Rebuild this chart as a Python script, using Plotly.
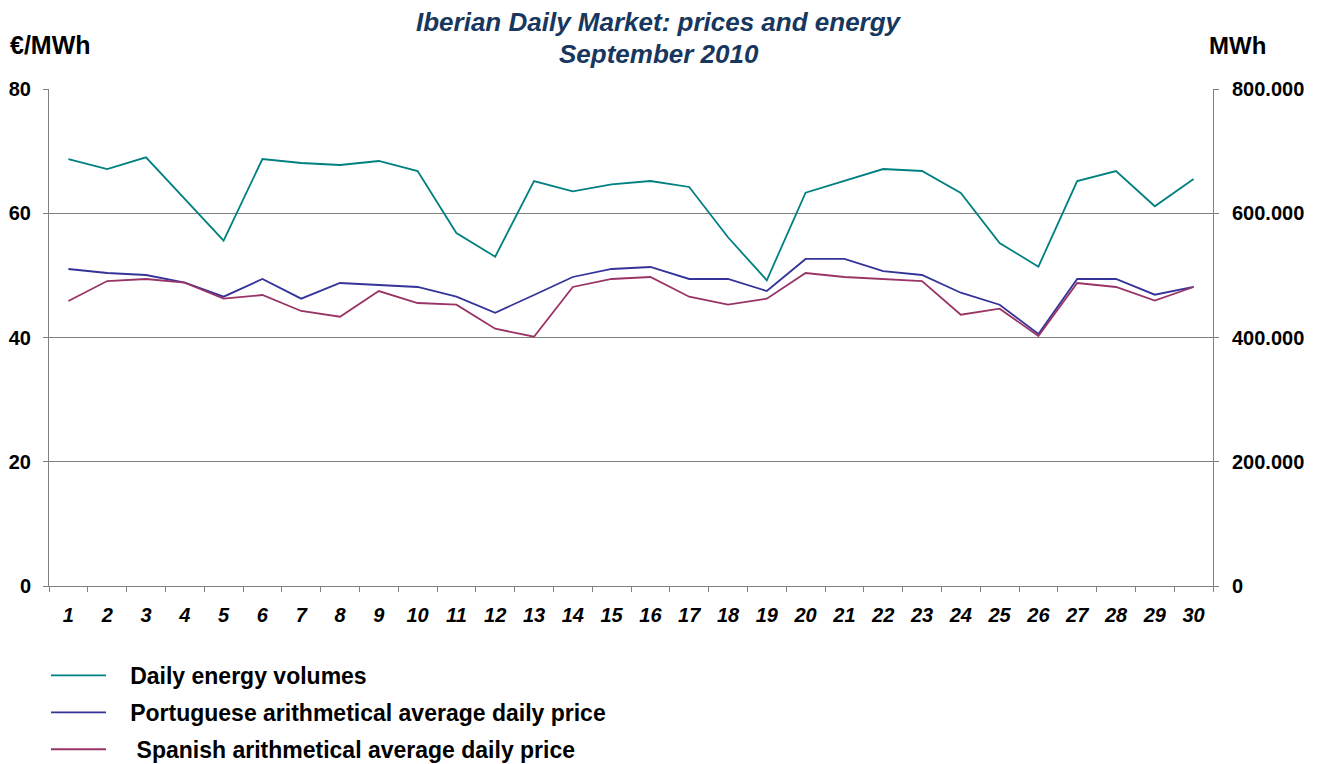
import plotly.graph_objects as go

days = [str(d) for d in range(1, 31)]

energy_mwh = [687300, 671200, 690000, 622900, 555800, 687300, 680900, 677700, 684100, 668000,
              568200, 530100, 651900, 635300, 646600, 651900, 642300, 561300, 492100, 633100,
              652400, 671200, 668000, 632600, 552100, 514000, 651900, 668000, 611300, 655100]

pt_price = [51.03, 50.38, 50.06, 48.82, 46.57, 49.42, 46.25, 48.77, 48.45, 48.13,
            46.57, 43.99, 46.84, 49.74, 51.03, 51.35, 49.42, 49.42, 47.48, 52.64,
            52.64, 50.70, 50.06, 47.21, 45.28, 40.56, 49.42, 49.42, 46.89, 48.13]

es_price = [45.88, 49.09, 49.42, 48.82, 46.25, 46.84, 44.27, 43.35, 47.48, 45.55,
            45.28, 41.42, 40.13, 48.13, 49.42, 49.74, 46.57, 45.28, 46.25, 50.38,
            49.74, 49.42, 49.09, 43.67, 44.64, 40.24, 48.77, 48.13, 45.93, 48.13]

NB = "\u00a0"
names = [NB * 3 + "Daily energy volumes",
         NB * 3 + "Portuguese arithmetical average daily price",
         NB * 4 + "Spanish arithmetical average daily price"]
colors = ["#008080", "#333399", "#993366"]

left_ticks = [0, 20, 40, 60, 80]
right_ticks = [0, 200000, 400000, 600000, 800000]

FONT = "Liberation Sans, Arial, sans-serif"
TITLE_COLOR = "#17375E"

# the page body adds an 8px offset; the figure is sized so the visible page matches
OFF = 8
W, H = 1326 - OFF, 764 - OFF
L = 49 - OFF
T = 89 - OFF
R = W - (1213 - OFF)
B = H - (586 - OFF)

fig = go.Figure()
fig.add_trace(go.Scatter(x=days, y=energy_mwh, name=names[0], mode="lines", yaxis="y2",
                         line=dict(color=colors[0], width=1.8), legendgroup="a"))
fig.add_trace(go.Scatter(x=days, y=pt_price, name=names[1], mode="lines",
                         line=dict(color=colors[1], width=1.8), legendgroup="b"))
fig.add_trace(go.Scatter(x=days, y=es_price, name=names[2], mode="lines",
                         line=dict(color=colors[2], width=1.8), legendgroup="c"))


def ann(text, xs, ys, size, color, italic=False, xanchor="center"):
    xpix, ypix = xs - OFF, ys - OFF
    return dict(text=text, xref="paper", yref="paper",
                x=(xpix - L) / (W - L - R), y=(H - B - ypix) / (H - T - B),
                xanchor=xanchor, yanchor="middle", showarrow=False,
                font=dict(family=FONT, size=size, weight="bold",
                          style="italic" if italic else "normal", color=color))


fig.update_layout(
    width=W, height=H,
    margin=dict(l=L, r=R, t=T, b=B, autoexpand=False),
    paper_bgcolor="white", plot_bgcolor="white",
    separators=",.",
    font=dict(family=FONT, color="black"),
    showlegend=True,
    legend=dict(
        xref="container", yref="container", x=(46 - OFF) / W, y=1 - (654 - OFF) / H,
        xanchor="left", yanchor="top",
        font=dict(family=FONT, size=23, weight="bold", color="black"),
        tracegroupgap=4, bgcolor="rgba(0,0,0,0)", itemwidth=55,
    ),
    xaxis=dict(
        type="category", categoryorder="array", categoryarray=days,
        range=[-0.5, 29.5],
        showline=True, linecolor="#808080", linewidth=1,
        ticks="outside", tickson="boundaries", ticklen=5, tickcolor="#808080",
        showgrid=False, tickangle=0,
        tickfont=dict(family=FONT, size=20, weight="bold", style="italic", color="black"),
        ticklabelstandoff=11,
    ),
    yaxis=dict(
        range=[0, 80], tickvals=left_ticks,
        showline=True, linecolor="#808080", linewidth=1,
        ticks="outside", ticklen=5, tickcolor="#808080",
        showgrid=True, gridcolor="#808080", gridwidth=1,
        zeroline=False,
        tickfont=dict(family=FONT, size=20, weight="bold", color="black"),
        ticklabelstandoff=8,
    ),
    yaxis2=dict(
        range=[0, 800000], tickvals=right_ticks, tickformat=",d",
        overlaying="y", side="right",
        showline=True, linecolor="#808080", linewidth=1,
        ticks="outside", ticklen=5, tickcolor="#808080",
        showgrid=False, zeroline=False,
        tickfont=dict(family=FONT, size=20, weight="bold", color="black"),
        ticklabelstandoff=9,
    ),
    annotations=[
        ann("Iberian Daily Market: prices and energy", 659, 22, 26, TITLE_COLOR, italic=True),
        ann("September 2010", 659, 54, 26, TITLE_COLOR, italic=True),
        ann("€/MWh", 8, 45, 25, "black", xanchor="left"),
        ann("MWh", 1207, 45, 24, "black", xanchor="left"),
    ],
)

fig.write_html("out.html")
